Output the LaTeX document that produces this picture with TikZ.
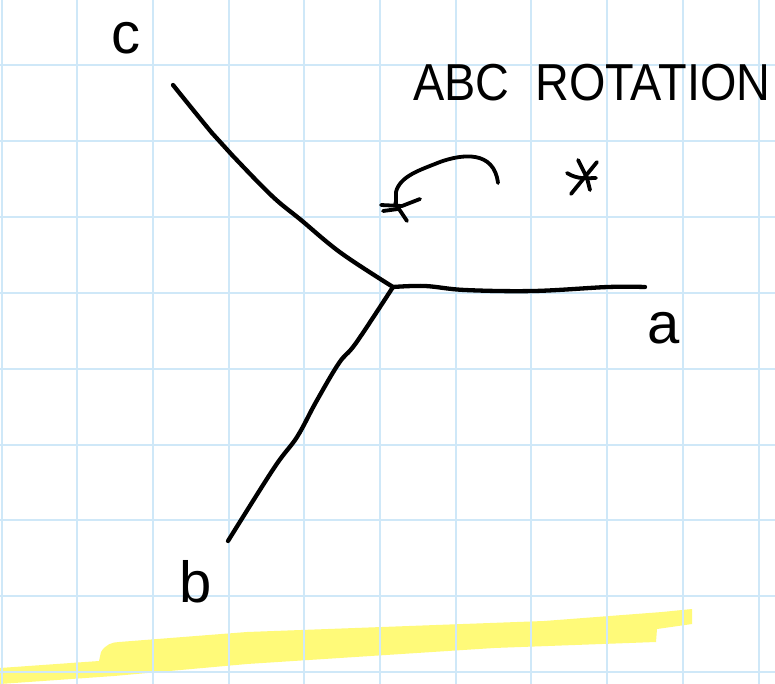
\documentclass[tikz,border=0pt]{standalone}
\usepackage{fontspec}
\setmainfont{Liberation Sans}
\definecolor{gridblue}{HTML}{CFE8F8}
\definecolor{hilite}{HTML}{FFFA72}
\begin{document}
\begin{tikzpicture}[x=1pt,y=-1pt,
  gridline/.style={draw=gridblue,line width=2pt},
  ink/.style={draw=black,line width=4.3pt,line cap=round,line join=round},
  thin ink/.style={draw=black,line width=3.8pt,line cap=round,line join=round},
  lbl/.style={inner sep=0pt,font=\fontsize{58}{58}\selectfont},
  title/.style={inner sep=0pt,anchor=west,font=\fontsize{52}{52}\selectfont}]
\useasboundingbox (0,0) rectangle (775,684);
\fill[white] (0,0) rectangle (775,684);
% highlight
\fill[hilite,fill opacity=0.95] (0,668) -- (99,661) -- (101,652) .. controls (105,645) and (112,642) .. (119,642)
  -- (247,632) -- (544,621) -- (662,612) -- (692,609) -- (692,624) -- (657,629) -- (656,642)
  -- (494,648) -- (247,664) -- (114,676) -- (0,684) -- cycle;
% grid
\foreach \k in {0,...,10} {\draw[gridline] ({1.5+75.7*\k},0) -- ({1.5+75.7*\k},684);}
\foreach \k in {1,...,9} {\draw[gridline] (0,{-10.3+75.8*\k}) -- (775,{-10.3+75.8*\k});}
% centre and ends
\coordinate (O) at (393,287);
\coordinate (cend) at (173,85);
\coordinate (aend) at (645,287);
\coordinate (bend) at (228,541);
\draw[ink] plot[smooth,tension=0.6] coordinates {(cend) (212,133) (232,155) (272,196) (301,220) (341,253) (O)};
\draw[ink] plot[smooth,tension=0.6] coordinates {(O) (425,286) (465,290) (534,291) (608,287) (aend)};
\draw[ink] plot[smooth,tension=0.6] coordinates {(O) (356,343) (339,363) (316,402) (297,437) (274,468) (bend)};
% labels
\node[lbl] (c) at (126,38) {c};
\node[lbl] (a) at (664,328) {a};
\node[lbl] (b) at (196,582) {b};
\node[title] (t) at (413,83) {\scalebox{0.9}[1]{ABC\ \ ROTATION}};
% rotation arrow with star tip
\coordinate (arrs) at (498,183);
\coordinate (arre) at (396,206);
\draw[thin ink] (arrs) .. controls (494,150) and (462,154) .. (440,162)
  .. controls (420,170) and (400,176) .. (396,192) -- (arre);
\draw[thin ink] (381,205) -- (402,206) -- (420,199);
\draw[thin ink] (383,211) -- (398,209);
\draw[thin ink] (395,203) -- (407,221);
% star
\coordinate (star) at (581,177);
\draw[thin ink] (578,160) -- (587,178);
\draw[thin ink] (597,162) -- (571,194);
\draw[thin ink] (567,173) .. controls (578,180) and (588,178) .. (596,178);
\draw[thin ink] (587,178) -- (590,190);
\end{tikzpicture}
\end{document}
